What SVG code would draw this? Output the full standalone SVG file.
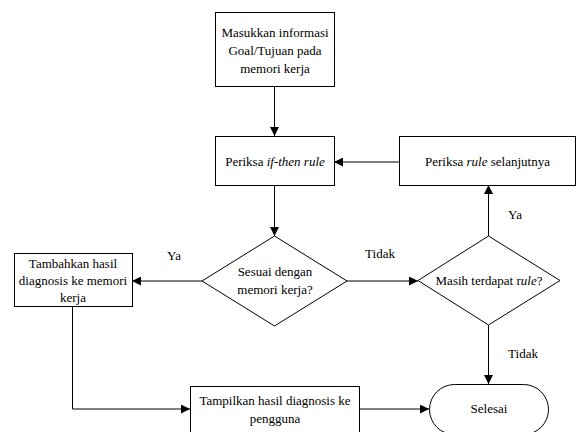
<svg xmlns="http://www.w3.org/2000/svg" width="579" height="432" viewBox="0 0 579 432">
<defs>
<style>
.n{fill:#fff;stroke:#000;stroke-width:1}
text{font-family:'Liberation Serif','Times New Roman',Times,'DejaVu Serif',serif;font-size:13px;fill:#000;text-anchor:middle}
.i{font-style:italic}
.c{fill:none;stroke:#000;stroke-width:1}
</style>
<marker id="a" viewBox="0 0 10 10" refX="10" refY="5" markerWidth="9" markerHeight="9" markerUnits="userSpaceOnUse" orient="auto">
<path d="M0,0 L10,5 L0,10 z" fill="#000"/>
</marker>
</defs>
<rect width="579" height="432" fill="#fff"/>
<g id="connectors" font-family="Liberation Serif, serif">
<path class="c" d="M274.5,86 V136" marker-end="url(#a)"/>
<path class="c" d="M399,162 H334" marker-end="url(#a)"/>
<path class="c" d="M274.5,185 V236" marker-end="url(#a)"/>
<path class="c" d="M202,281 H132" marker-end="url(#a)"/>
<path class="c" d="M347,281 H418" marker-end="url(#a)"/>
<path class="c" d="M488.5,236 V185" marker-end="url(#a)"/>
<path class="c" d="M488.5,325 V384" marker-end="url(#a)"/>
<path class="c" d="M72.5,306 V409 H190" marker-end="url(#a)"/>
<path class="c" d="M359,409 H429" marker-end="url(#a)"/>
<text x="174" y="260">Ya</text>
<text x="380" y="258">Tidak</text>
<text x="515" y="219">Ya</text>
<text x="523" y="358">Tidak</text>
</g>
<g id="n1">
<rect class="n" x="215.5" y="12.5" width="119" height="74"/>
<text x="275" y="37">Masukkan informasi</text>
<text x="275" y="55">Goal/Tujuan pada</text>
<text x="275" y="73">memori kerja</text>
</g>
<g id="n2">
<rect class="n" x="215.5" y="136.5" width="119" height="49"/>
<text x="275" y="166">Periksa <tspan class="i">if-then rule</tspan></text>
</g>
<g id="n3">
<rect class="n" x="399.5" y="136.5" width="176" height="49"/>
<text x="487.5" y="166">Periksa <tspan class="i">rule</tspan> selanjutnya</text>
</g>
<g id="n4">
<path class="n" d="M274.5,236 L347,281 L274.5,326 L202,281 Z"/>
<text x="275" y="276">Sesuai dengan</text>
<text x="275" y="294">memori kerja?</text>
</g>
<g id="n5">
<path class="n" d="M488.5,236 L560,280.5 L488.5,325 L418,280.5 Z"/>
<text x="489" y="285">Masih terdapat r<tspan class="i">ule</tspan>?</text>
</g>
<g id="n6">
<rect class="n" x="14.5" y="253.5" width="118" height="53"/>
<text x="73" y="268">Tambahkan hasil</text>
<text x="73" y="285">diagnosis ke memori</text>
<text x="73" y="302">kerja</text>
</g>
<g id="n7">
<rect class="n" x="190.5" y="386.5" width="169" height="60"/>
<text x="275" y="405">Tampilkan hasil diagnosis ke</text>
<text x="275" y="423">pengguna</text>
</g>
<g id="n8">
<rect class="n" x="429.5" y="384.5" width="119" height="50" rx="25" ry="25"/>
<text x="489" y="413">Selesai</text>
</g>
</svg>
